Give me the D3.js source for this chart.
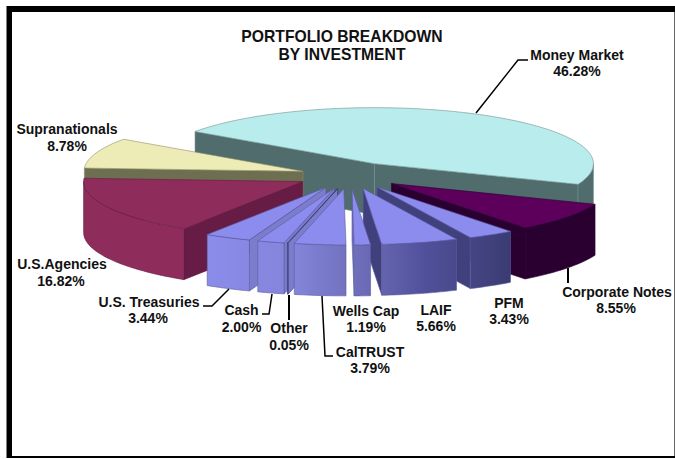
<!DOCTYPE html>
<html><head><meta charset="utf-8">
<script src="https://cdn.jsdelivr.net/npm/d3@7/dist/d3.min.js"></script>
<style>html,body{margin:0;padding:0;background:#fff}svg{display:block}text{font-family:"Liberation Sans",Arial,sans-serif;font-weight:bold;fill:#111}</style>
</head><body><svg id="c" width="675" height="459"></svg>
<script>
const categories=["Money Market","Corporate Notes","PFM","LAIF","Wells Cap","CalTRUST","Other","Cash","U.S. Treasuries","U.S.Agencies","Supranationals"];
const values=[46.28,8.55,3.43,5.66,1.19,3.79,0.05,2.00,3.44,16.82,8.78];
const valueLabels=["46.28%","8.55%","3.43%","5.66%","1.19%","3.79%","0.05%","2.00%","3.44%","16.82%","8.78%"];
const titleLines=["PORTFOLIO BREAKDOWN","BY INVESTMENT"];
// explosion of each slice as a fraction of the radius
const explosions=[.24,.24,.24,.24,.24,.24,.24,.24,.24,.24,.225];
// styles per slice: top, radial wall, outer wall, outline
const topColors=["#b9ecec","#5c005c","#8c8cee","#8c8cee","#8c8cee","#8c8cee","#8c8cee","#8c8cee","#8c8cee","#8e2c5c","#eeecb6"];
const wallColors=["#506c6c","#2a0030","#40407c","#40407c","#7070c0","#7878c8","#7c7ccc","#7c7ccc","#7c7ccc","#661c44","#6e6e50"];
const rimColors=["#506c6c","#2a0030","url(#blue)","url(#blue)","url(#blue)","url(#blue)","url(#blue)","url(#blue)","url(#blue)","#8e2c5c","#6e6e50"];
const edgeColors=["#6f9090","#2a0030","#5a5aa0","#5a5aa0","#5a5aa0","#5a5aa0","#34346c","#5a5aa0","#5a5aa0","#661c44","#8f8f68"];
// paint order, back to front (indexes into categories)
const paintOrder=[0,10,1,9,2,8,3,7,6,5,4];
// label layout: name/value anchor and leader polyline
const labelLayout=[
 {x:577,x2:577,y:[60,76],lead:[[476,113],[518,60],[528,60]],w:1.5},
 {x:617,x2:616,y:[297,313],lead:[[568,268],[568,283]],w:2},
 {x:509,x2:509,y:[308,324]},
 {x:436,x2:436,y:[315,331]},
 {x:366,x2:366,y:[316,332]},
 {x:370,x2:370,y:[357,373],lead:[[322,296],[325,356],[333,356]],w:1.5},
 {x:289,x2:289,y:[333,350],lead:[[289,295],[289,320]],w:2},
 {x:241.5,x2:241.5,y:[315,332],lead:[[272,294],[269,314],[262,314]],w:1.5},
 {x:149,x2:148,y:[307,323],lead:[[229,289],[212,306],[203,306]],w:1.5},
 {x:62,x2:61,y:[269,286]},
 {x:67,x2:67,y:[134,151]}
];
const W=675,H=459,cx=349.5,cy=175.5,rx=219,ry=56,depth=51,fontLabel=14,fontTitle=15.7;
const svg=d3.select("#c");
svg.append("rect").attr("width",W).attr("height",H).attr("fill","#fff");
const g=svg.append("defs").append("linearGradient").attr("id","blue").attr("gradientUnits","userSpaceOnUse").attr("x1",200).attr("x2",515).attr("y1",0).attr("y2",0);
[[0,"#8c8cec"],[.3,"#8484da"],[.5,"#6e6eba"],[.72,"#50509a"],[1,"#3a3a70"]].forEach(s=>g.append("stop").attr("offset",s[0]).attr("stop-color",s[1]));
// frame
svg.append("path").attr("fill","#000").attr("fill-rule","evenodd")
 .attr("d","M6.5,6H675V458H6.5ZM12,12V456H674V12Z");
svg.append("rect").attr("x",674).attr("y",12).attr("width",1).attr("height",444).attr("fill","#666");
const start=305*Math.PI/180;
const arcs=d3.pie().sort(null).startAngle(start).endAngle(start+2*Math.PI)(values);
const line=d3.line();
const ex=t=>rx*Math.cos(t-Math.PI/2), ey=t=>ry*Math.sin(t-Math.PI/2);
arcs.forEach((a,i)=>{const m=(a.startAngle+a.endAngle)/2;a.ox=cx+explosions[i]*ex(m);a.oy=cy+explosions[i]*ey(m);});
const rim=(a,t0,t1,dy=0)=>{const n=Math.max(2,Math.ceil(Math.abs(t1-t0)/0.02));return d3.range(n+1).map(k=>{const t=t0+(t1-t0)*k/n;return [a.ox+ex(t),a.oy+ey(t)+dy];});};
const root=svg.append("g");
paintOrder.forEach(i=>{
 const a=arcs[i],s=root.append("g").datum(a);
 const style=(p,f)=>p.attr("fill",f).attr("stroke",edgeColors[i]).attr("stroke-width",.6).attr("stroke-linejoin","round");
 const wall=t=>{const p=[a.ox+ex(t),a.oy+ey(t)];style(s.append("path").attr("d",line([[a.ox,a.oy],p,[p[0],p[1]+depth],[a.ox,a.oy+depth]])+"Z"),wallColors[i]);};
 // radial walls facing the viewer
 const sv=-Math.cos(a.startAngle-Math.PI/2)>0, ev=Math.cos(a.endAngle-Math.PI/2)>0;
 if(sv)wall(a.startAngle); if(ev)wall(a.endAngle);
 // outer wall for the front part of the rim
 const base=[];
 for(let n=-1;n<3;n++){const lo=Math.max(a.startAngle,Math.PI/2+2*n*Math.PI),hi=Math.min(a.endAngle,3*Math.PI/2+2*n*Math.PI);if(hi>lo)base.push([lo,hi]);}
 base.forEach(([lo,hi])=>{const pts=rim(a,lo,hi).concat(rim(a,hi,lo,depth));style(s.append("path").attr("d",line(pts)+"Z"),rimColors[i]);});
 // top face
 const top=[[a.ox,a.oy]].concat(rim(a,a.startAngle,a.endAngle));
 style(s.append("path").attr("d",line(top)+"Z"),topColors[i]);
});
// title
titleLines.forEach((t,i)=>svg.append("text").attr("x",342).attr("y",42+i*17.5).attr("text-anchor","middle").attr("font-size",fontTitle).text(t));
// labels
categories.forEach((c,i)=>{
 const l=labelLayout[i];
 [c,valueLabels[i]].forEach((t,j)=>svg.append("text").attr("x",j?l.x2:l.x).attr("y",l.y[j]).attr("text-anchor","middle").attr("font-size",fontLabel).text(t));
 if(l.lead)svg.append("path").attr("d",line(l.lead)).attr("fill","none").attr("stroke","#000").attr("stroke-width",l.w);
});
</script></body></html>
